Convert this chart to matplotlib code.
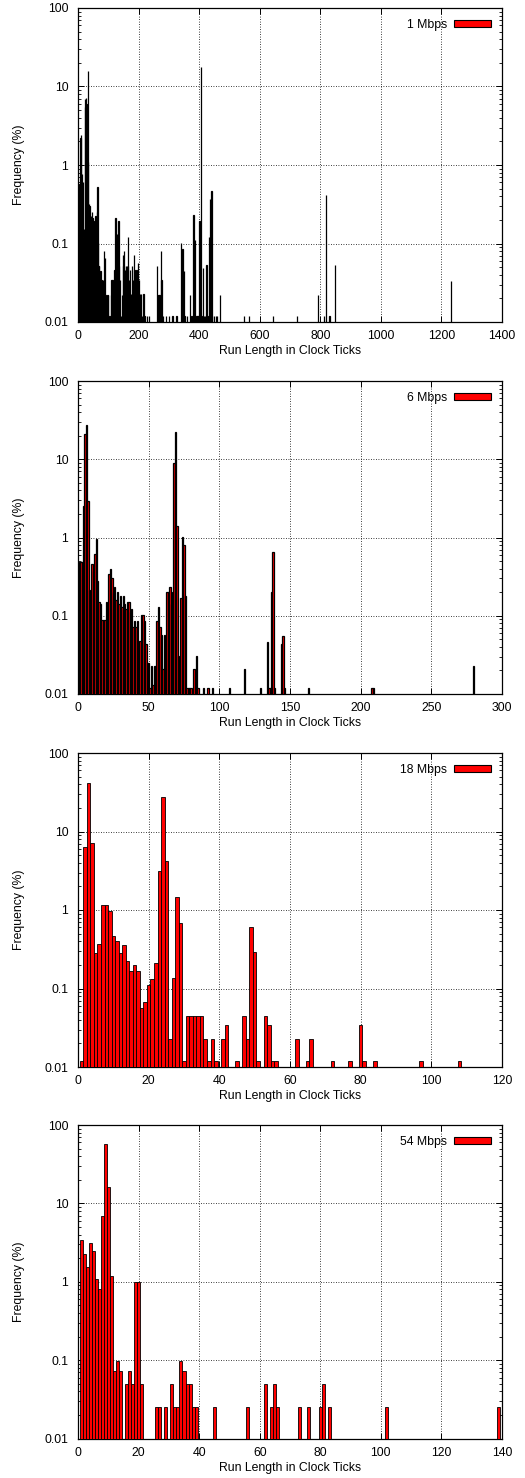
import matplotlib
matplotlib.use('Agg')
import matplotlib.pyplot as plt
from matplotlib.ticker import FixedLocator, NullFormatter, MultipleLocator

plt.rcParams['font.family'] = ['Liberation Sans', 'DejaVu Sans']

# --- data (run length in ticks, frequency in %) ---
labels = ['1 Mbps', '6 Mbps', '18 Mbps', '54 Mbps']
x_max = [1400, 300, 120, 140]
x_step = [200, 50, 20, 20]

run_1 = [1, 3, 5, 8, 10, 12, 14, 16, 18, 20, 22, 24, 26, 28, 30, 32, 34, 36, 38, 40,
         42, 44, 46, 48, 50, 52, 54, 56, 58, 60, 62, 64, 66, 68, 70, 72, 74, 76, 78, 80,
         83, 86, 88, 91, 94, 97, 100, 104, 108, 111, 114, 118, 121, 124, 126, 128, 130,
         132, 134, 136, 138, 141, 145, 148, 150, 153, 155, 158, 161, 164, 166, 169, 172,
         175, 178, 181, 184, 187, 190, 193, 196, 199, 202, 205, 208, 212, 216, 220, 228,
         235, 260, 263, 266, 269, 273, 276, 280, 290, 300, 312, 325, 341, 345, 349, 352,
         360, 369, 375, 381, 384, 387, 391, 395, 398, 401, 403, 406, 408, 412, 416, 420,
         424, 428, 433, 436, 438, 441, 443, 450, 455, 460, 470, 547, 565, 645, 723, 792,
         812, 820, 830, 848, 1231]
freq_1 = [0.57, 0.12, 0.57, 2.2, 2.4, 0.5, 0.77, 0.6, 0.12, 0.15, 6.9, 5.5, 7.1, 6.0, 2.0,
          15.8, 1.1, 0.32, 0.3, 0.12, 0.22, 0.12, 0.25, 0.21, 0.13, 0.12, 0.19, 0.13, 0.22,
          0.19, 0.25, 0.53, 0.1, 0.05, 0.05, 0.044, 0.044, 0.033, 0.033, 0.021, 0.033, 0.08,
          0.064, 0.021, 0.011, 0.021, 0.021, 0.011, 0.021, 0.033, 0.033, 0.011, 0.045, 0.21,
          0.045, 0.13, 0.1, 0.05, 0.19, 0.05, 0.033, 0.011, 0.021, 0.07, 0.05, 0.08, 0.045,
          0.05, 0.05, 0.05, 0.12, 0.033, 0.045, 0.022, 0.05, 0.033, 0.07, 0.045, 0.022,
          0.045, 0.033, 0.055, 0.033, 0.022, 0.022, 0.011, 0.022, 0.011, 0.011, 0.011,
          0.05, 0.021, 0.021, 0.021, 0.08, 0.033, 0.011, 0.011, 0.011, 0.011, 0.011, 0.1,
          0.085, 0.043, 0.011, 0.011, 0.021, 0.011, 0.23, 0.011, 0.11, 0.011, 0.011, 0.011,
          0.19, 0.011, 17.5, 0.011, 0.048, 0.011, 0.011, 0.053, 0.011, 0.12, 0.37, 0.011,
          0.46, 0.011, 0.011, 0.011, 0.011, 0.021, 0.011, 0.011, 0.011, 0.011, 0.021,
          0.011, 0.41, 0.011, 0.053, 0.032]

run_6 = list(range(1, 81)) + [82, 84, 85, 89, 92, 95, 107, 118, 129, 134, 135, 136, 137,
                              138, 139, 144, 145, 146, 163, 208, 209, 280]
freq_6 = [0.49, 0.49, 0.49, 2.5, 21, 27, 2.9, 0.21, 0.14, 0.46, 0.37, 0.61, 0.95, 0.28,
          0.15, 0.14, 0.086, 0.086, 0.086, 0.15, 0.13, 0.34, 0.39, 0.30, 0.2, 0.23, 0.16,
          0.2, 0.14, 0.18, 0.13, 0.18, 0.14, 0.12, 0.15, 0.15, 0.11, 0.12, 0.07, 0.085,
          0.07, 0.085, 0.022, 0.047, 0.1, 0.1, 0.085, 0.043, 0.024, 0.024, 0.011, 0.022,
          0.012, 0.022, 0.022, 0.085, 0.13, 0.07, 0.055, 0.02, 0.055, 0.02, 0.2, 0.2, 0.23,
          0.14, 0.2, 8.9, 22, 1.4, 0.03, 0.02, 0.17, 1.0, 0.8, 0.18, 0.011, 0.011, 0.011,
          0.011, 0.02, 0.03, 0.011, 0.011, 0.011, 0.011, 0.011, 0.02, 0.011, 0.045, 0.011,
          0.011, 0.2, 0.66, 0.011, 0.043, 0.054, 0.011, 0.011, 0.011, 0.011, 0.022]

run_18 = list(range(1, 40)) + [41, 42, 45, 47, 48, 49, 50, 51, 53, 54, 55, 56, 62, 65, 66,
                               72, 77, 80, 81, 84, 97, 108]
freq_18 = [0.011, 6.4, 42, 7.2, 0.28, 0.37, 1.16, 1.16, 0.98, 0.46, 0.40, 0.28, 0.354,
           0.223, 0.168, 0.2, 0.168, 0.056, 0.066, 0.11, 0.133, 0.213, 3.1, 27.5, 4.2,
           0.022, 0.135, 1.48, 0.68, 0.011, 0.044, 0.044, 0.044, 0.044, 0.044, 0.022,
           0.011, 0.022, 0.011, 0.022, 0.033, 0.011, 0.044, 0.022, 0.61, 0.29, 0.011,
           0.044, 0.033, 0.011, 0.011, 0.022, 0.011, 0.022, 0.011, 0.011, 0.033, 0.011,
           0.011, 0.011, 0.011]

run_54 = list(range(1, 15)) + [16, 17, 18, 19, 20, 21, 26, 27, 29, 31, 32, 33, 34, 35, 36,
                               37, 38, 39, 45, 56, 62, 64, 65, 66, 73, 76, 80, 81, 83,
                               102, 139]
freq_54 = [3.45, 2.27, 1.52, 3.16, 2.48, 1.07, 0.81, 6.8, 57, 16.4, 1.18, 0.072, 0.097,
           0.072, 0.048, 0.072, 0.048, 1.0, 0.98, 0.048, 0.024, 0.024, 0.024, 0.048, 0.024,
           0.024, 0.097, 0.072, 0.048, 0.048, 0.024, 0.024, 0.024, 0.024, 0.048, 0.024,
           0.048, 0.024, 0.024, 0.024, 0.024, 0.048, 0.024, 0.024, 0.024]

runs = [run_1, run_6, run_18, run_54]
freqs = [freq_1, freq_6, freq_18, freq_54]

y_ticks = [0.01, 0.1, 1, 10, 100]
y_tick_labels = ['0.01', '0.1', '1', '10', '100']

# panel placement in pixels (top, bottom) on a 525x1478 canvas
W, H = 525, 1478
left_px, right_px = 78, 502
panel_px = [(8, 322), (381, 694), (753, 1067), (1125, 1438.5)]
# dense panels get heavier outlines, as in the reference
edge_w = [0.9, 0.9, 0.6, 0.6]

fig = plt.figure(figsize=(W / 100, H / 100), dpi=100)

for i in range(4):
    top, bot = panel_px[i]
    ax = fig.add_axes([left_px / W, 1 - bot / H, (right_px - left_px) / W, (bot - top) / H])
    ax.set_yscale('log')
    ax.bar(runs[i], freqs[i], width=1.0, bottom=1e-3, color='#ff0000',
           edgecolor='black', linewidth=edge_w[i], label=labels[i], zorder=3)
    ax.set_xlim(0, x_max[i])
    ax.set_ylim(0.01, 100)

    ax.yaxis.set_major_locator(FixedLocator(y_ticks))
    ax.set_yticklabels(y_tick_labels)
    ax.yaxis.set_minor_locator(FixedLocator(
        [m * 10.0 ** e for e in range(-2, 2) for m in range(2, 10)]))
    ax.yaxis.set_minor_formatter(NullFormatter())
    ax.xaxis.set_major_locator(MultipleLocator(x_step[i]))

    ax.tick_params(which='both', direction='in', top=True, right=True,
                   labelsize=8.8, colors='black')
    ax.tick_params(which='major', length=4.5, width=0.7, pad=6)
    ax.tick_params(which='minor', length=2.5, width=0.6)
    ax.tick_params(axis='y', which='major', pad=7)
    for s in ax.spines.values():
        s.set_linewidth(0.9)

    ax.grid(True, which='major', linestyle=(0, (1, 2)), color='black', linewidth=0.6)
    ax.set_axisbelow(True)

    ax.set_xlabel('Run Length in Clock Ticks', fontsize=8.8, labelpad=2)
    ax.set_ylabel('Frequency (%)', fontsize=8.8, labelpad=14)

    leg = ax.legend(loc='upper right', frameon=False, markerfirst=False, fontsize=8.8,
                    handlelength=3.0, handleheight=0.5, handletextpad=0.6,
                    borderaxespad=0.6, borderpad=0.3)
    for h in leg.legend_handles:
        h.set_linewidth(0.8)

fig.savefig('out.png', dpi=100)
